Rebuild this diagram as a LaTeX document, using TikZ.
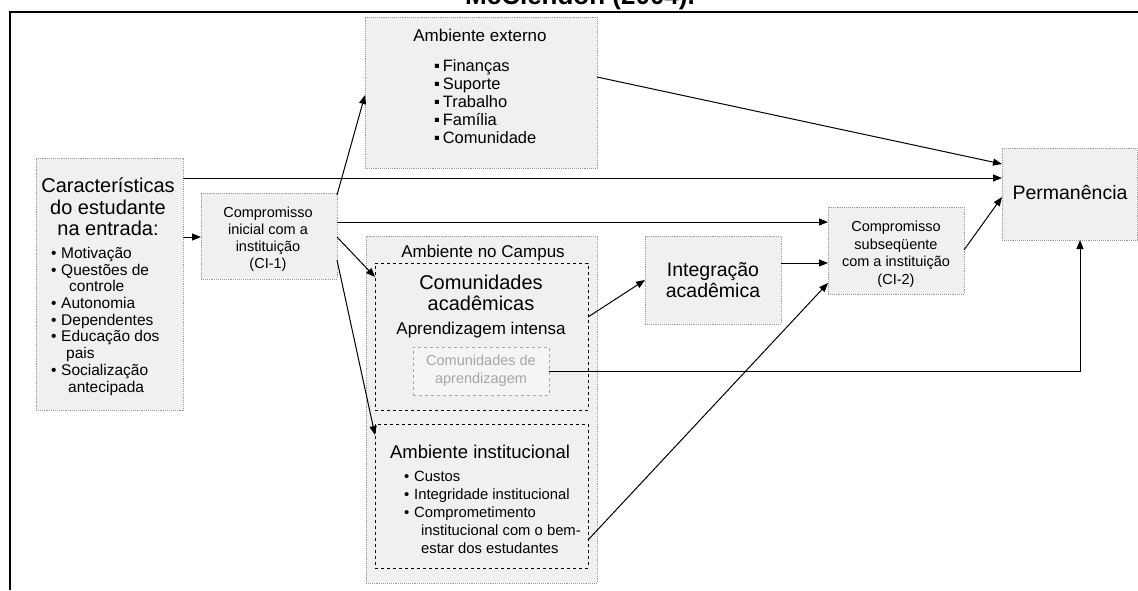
\documentclass[tikz,border=0pt]{standalone}
\usepackage{fontspec}
\setmainfont{Liberation Sans}
\usetikzlibrary{arrows.meta}
\tikzset{
  graybox/.style={draw=gray!80, densely dotted, line width=0.9pt, fill=gray!12, inner sep=0pt, outer sep=0pt, anchor=north west},
  dashbox/.style={draw=black, dashed, line width=1pt, inner sep=0pt, outer sep=0pt, anchor=north west},
  lightdash/.style={draw=gray!70, dashed, line width=0.9pt, fill=gray!8, inner sep=0pt, outer sep=0pt, anchor=north west},
  arr/.style={line width=1pt, -{Triangle[length=9pt,width=7pt]}},
  txt/.style={inner sep=0pt, align=center},
  ltxt/.style={inner sep=0pt, align=left, anchor=north west},
}
\newcommand{\fs}[2]{\fontsize{#1}{#2}\selectfont}
\newcommand{\bul}{\makebox[10pt][l]{•}}
\newcommand{\ind}[1]{\rule{#1}{0pt}}
\begin{document}
\begin{tikzpicture}[x=1pt,y=-1pt]
\useasboundingbox (0,0) rectangle (1138,590);
\clip (0,0) rectangle (1138,590);
% cut title
\node[inner sep=0pt, anchor=base, font=\bfseries\fs{26}{28}] (title) at (580,4.5) {McClendon (2004).};
% frame
\draw[line width=2pt] (1138,12) -- (10,12) -- (10,590);

% boxes
\node[graybox, minimum width=147pt, minimum height=252pt] (char) at (36,158) {};
\node[graybox, minimum width=136pt, minimum height=86pt] (ci1) at (201,193) {};
\node[graybox, minimum width=232pt, minimum height=151pt] (ext) at (365,17) {};
\node[graybox, minimum width=231pt, minimum height=347pt] (campus) at (366,236) {};
\node[dashbox, minimum width=213pt, minimum height=147pt] (comac) at (375,263) {};
\node[lightdash, minimum width=136pt, minimum height=48pt] (comap) at (413,347) {};
\node[dashbox, minimum width=213pt, minimum height=144pt] (inst) at (375,424) {};
\node[graybox, minimum width=136pt, minimum height=88pt] (integ) at (645,236) {};
\node[graybox, minimum width=136pt, minimum height=87pt] (ci2) at (828,207) {};
\node[graybox, minimum width=135pt, minimum height=92pt] (perm) at (1002,148) {};

% texts
\node[txt, font=\fs{20}{21.5}] (chart) at (108,207) {Características\\do estudante\\na entrada:};
\node[ltxt, font=\fs{15.5}{16.7}] (charl) at (51,247) {\bul Motivação\\\bul Questões de\\\ind{18pt}controle\\\bul Autonomia\\\bul Dependentes\\\bul Educação dos\\\ind{15pt}pais\\\bul Socialização\\\ind{17pt}antecipada};
\node[txt, font=\fs{14.5}{17}] (ci1t) at (268,239) {Compromisso\\inicial com a\\instituição\\(CI-1)};
\node[txt, font=\fs{17}{19}] (extt) at (480,35) {Ambiente externo};
\node[ltxt, font=\fs{16.5}{18.2}] (extl) at (434,59) {▪\,Finanças\\▪\,Suporte\\▪\,Trabalho\\▪\,Família\\▪\,Comunidade};
\node[txt, font=\fs{17}{19}] (campust) at (483,253) {Ambiente no Campus};
\node[txt, font=\fs{20}{21}] (comact) at (481,293) {Comunidades\\acadêmicas};
\node[txt, font=\fs{17}{19}] (aprt) at (481,330) {Aprendizagem intensa};
\node[txt, font=\fs{14.5}{18}, text=gray!70] (comapt) at (481,371) {Comunidades de\\aprendizagem};
\node[txt, font=\fs{18.5}{20}] (instt) at (480,452) {Ambiente institucional};
\node[ltxt, font=\fs{14.8}{18}] (instl) at (404,471) {\bul Custos\\\bul Integridade institucional\\\bul Comprometimento\\\ind{17pt}institucional com o bem-\\\ind{17pt}estar dos estudantes};
\node[txt, font=\fs{19.5}{21}] (integt) at (713,280) {Integração\\acadêmica};
\node[txt, font=\fs{14.5}{17.5}] (ci2t) at (896,254) {Compromisso\\subseqüente\\com a instituição\\(CI-2)};
\node[txt, font=\fs{19.5}{21}] (permt) at (1070,192) {Permanência};

% connectors
\draw[arr] ([yshift=-79pt]char.north east) coordinate (a1) -- (a1 -| ci1.west);
\draw[arr] ([yshift=-20pt]char.north east) coordinate (a2) -- (a2 -| perm.west);
\draw[arr] ([yshift=-2pt]ci1.north east) -- ([yshift=-78pt]ext.north west);
\draw[arr] ([yshift=-29pt]ci1.north east) coordinate (a4) -- (a4 -| ci2.west);
\draw[arr] ([yshift=-44pt]ci1.north east) -- ([yshift=-14pt]comac.north west);
\draw[arr] ([yshift=-67pt]ci1.north east) -- ([yshift=-11pt]inst.north west);
\draw[arr] ([yshift=-60pt]ext.north east) -- ([yshift=-16pt]perm.north west);
\draw[arr] ([yshift=-54pt]comac.north east) -- ([yshift=-44pt]integ.north west);
\draw[arr] ([yshift=-27pt]integ.north east) coordinate (a9) -- (a9 -| ci2.west);
\draw[arr] ([yshift=-116pt]inst.north east) -- ([yshift=-76pt]ci2.north west);
\draw[arr] ([yshift=-43pt]ci2.north east) -- ([yshift=-49pt]perm.north west);
\draw[arr] (comap.east) -| ([xshift=78pt]perm.south west);
\end{tikzpicture}
\end{document}
